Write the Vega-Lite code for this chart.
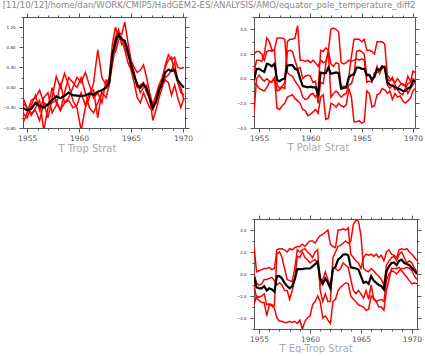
{
"$schema": "https://vega.github.io/schema/vega-lite/v6.json",
"padding": {"left": 2, "top": 1, "right": 0, "bottom": 0},
"title": {"text": "[11/10/12]/home/dan/WORK/CMIP5/HadGEM2-ES/ANALYSIS/AMO/equator_pole_temperature_diff2", "anchor": "start", "font": "DejaVu Sans", "fontSize": 8.5, "fontWeight": "normal", "color": "#888888", "offset": 3, "dx": 0},
"config": {"view": {"stroke": null}, "axis": {"domainWidth": 1, "tickWidth": 1, "grid": false, "domainColor": "#555555", "tickColor": "#555555"}},
"datasets": {
"p1": [
{"t":1954.6,"a":-0.70,"b":-0.20,"c":-0.50,"d":-0.30,"m":-0.40},
{"t":1955.0,"a":-0.50,"b":-0.40,"c":-0.60,"d":-0.40,"m":-0.45},
{"t":1955.4,"a":-0.25,"b":-0.55,"c":-0.35,"d":-0.50,"m":-0.42},
{"t":1955.8,"a":-0.20,"b":-0.40,"c":-0.15,"d":-0.45,"m":-0.30},
{"t":1956.2,"a":-0.05,"b":-0.25,"c":-0.45,"d":-0.65,"m":-0.36},
{"t":1956.6,"a":-0.30,"b":-0.85,"c":-0.20,"d":-0.30,"m":-0.40},
{"t":1957.0,"a":-0.60,"b":-0.40,"c":-0.10,"d":-0.35,"m":-0.33},
{"t":1957.4,"a":-0.20,"b":0.00,"c":-0.50,"d":-0.30,"m":-0.25},
{"t":1957.8,"a":0.22,"b":-0.30,"c":-0.35,"d":-0.25,"m":-0.17},
{"t":1958.2,"a":0.00,"b":-0.45,"c":0.10,"d":-0.45,"m":-0.21},
{"t":1958.6,"a":0.28,"b":-0.10,"c":-0.30,"d":-0.30,"m":-0.16},
{"t":1959.0,"a":0.05,"b":0.20,"c":-0.20,"d":-0.25,"m":-0.10},
{"t":1959.4,"a":-0.25,"b":0.10,"c":0.00,"d":-0.40,"m":-0.15},
{"t":1959.8,"a":-0.40,"b":0.00,"c":0.20,"d":-0.35,"m":-0.16},
{"t":1960.2,"a":-0.85,"b":0.20,"c":0.10,"d":-0.10,"m":-0.17},
{"t":1960.6,"a":-0.40,"b":-0.10,"c":0.30,"d":-0.35,"m":-0.15},
{"t":1961.0,"a":-0.20,"b":-0.40,"c":0.05,"d":-0.10,"m":-0.12},
{"t":1961.4,"a":0.10,"b":-0.50,"c":-0.20,"d":-0.05,"m":-0.14},
{"t":1961.8,"a":0.75,"b":-0.30,"c":-0.10,"d":-0.60,"m":-0.08},
{"t":1962.2,"a":0.20,"b":-0.10,"c":-0.30,"d":-0.05,"m":-0.05},
{"t":1962.6,"a":0.05,"b":-0.20,"c":0.15,"d":0.00,"m":0.00},
{"t":1962.9,"a":0.20,"b":0.05,"c":0.10,"d":0.10,"m":0.10},
{"t":1963.2,"a":0.85,"b":0.45,"c":0.60,"d":0.70,"m":0.65},
{"t":1963.5,"a":1.20,"b":0.80,"c":1.00,"d":0.70,"m":0.92},
{"t":1963.8,"a":1.00,"b":1.10,"c":1.15,"d":0.95,"m":1.05},
{"t":1964.1,"a":0.95,"b":1.05,"c":0.85,"d":1.00,"m":0.96},
{"t":1964.4,"a":0.75,"b":1.30,"c":0.90,"d":0.80,"m":0.93},
{"t":1964.7,"a":0.50,"b":0.90,"c":0.80,"d":0.65,"m":0.70},
{"t":1965.0,"a":0.35,"b":0.55,"c":0.40,"d":0.50,"m":0.45},
{"t":1965.3,"a":0.10,"b":0.40,"c":0.20,"d":0.30,"m":0.25},
{"t":1965.6,"a":-0.20,"b":0.30,"c":0.10,"d":0.00,"m":0.05},
{"t":1965.9,"a":-0.30,"b":0.35,"c":-0.10,"d":0.05,"m":0.00},
{"t":1966.2,"a":-0.10,"b":0.45,"c":0.00,"d":0.10,"m":0.07},
{"t":1966.5,"a":-0.25,"b":0.20,"c":0.05,"d":-0.10,"m":-0.02},
{"t":1966.8,"a":-0.40,"b":-0.10,"c":-0.20,"d":-0.20,"m":-0.22},
{"t":1967.1,"a":-0.45,"b":-0.35,"c":-0.65,"d":-0.30,"m":-0.40},
{"t":1967.4,"a":-0.25,"b":-0.15,"c":-0.45,"d":-0.30,"m":-0.28},
{"t":1967.7,"a":0.00,"b":0.05,"c":-0.20,"d":-0.10,"m":-0.05},
{"t":1968.0,"a":0.15,"b":0.20,"c":0.00,"d":0.05,"m":0.10},
{"t":1968.3,"a":0.45,"b":0.40,"c":0.20,"d":0.15,"m":0.30},
{"t":1968.6,"a":0.65,"b":0.55,"c":0.25,"d":0.10,"m":0.36},
{"t":1968.9,"a":0.55,"b":0.60,"c":0.35,"d":-0.15,"m":0.33},
{"t":1969.2,"a":0.60,"b":0.30,"c":0.50,"d":0.05,"m":0.35},
{"t":1969.5,"a":0.40,"b":0.10,"c":0.10,"d":-0.20,"m":0.15},
{"t":1969.8,"a":0.38,"b":-0.10,"c":0.00,"d":-0.40,"m":0.07},
{"t":1970.1,"a":0.40,"b":-0.15,"c":-0.25,"d":-0.20,"m":0.00}
],
"p2": [
{"t":1954.5,"a":-2.8,"b":2.0,"c":0.5,"d":-0.3,"m":-0.15},
{"t":1954.75,"a":0.0,"b":2.2,"c":1.5,"d":-0.5,"m":0.8},
{"t":1955.0,"a":0.3,"b":2.2,"c":1.5,"d":-0.8,"m":0.8},
{"t":1955.25,"a":0.0,"b":2.0,"c":1.4,"d":-0.9,"m":0.65},
{"t":1955.5,"a":-0.2,"b":1.5,"c":2.0,"d":-1.0,"m":0.55},
{"t":1955.75,"a":0.0,"b":2.2,"c":3.3,"d":-0.7,"m":1.2},
{"t":1956.0,"a":-0.2,"b":2.3,"c":3.0,"d":-0.3,"m":1.15},
{"t":1956.25,"a":-0.3,"b":2.2,"c":2.3,"d":-0.2,"m":1.0},
{"t":1956.5,"a":0.0,"b":2.4,"c":2.3,"d":0.1,"m":1.2},
{"t":1956.75,"a":-2.4,"b":3.3,"c":-0.5,"d":-1.0,"m":-0.1},
{"t":1957.0,"a":-2.5,"b":3.3,"c":-0.8,"d":-0.9,"m":-0.2},
{"t":1957.25,"a":-2.2,"b":3.3,"c":-0.6,"d":-0.7,"m":-0.05},
{"t":1957.5,"a":-2.0,"b":3.2,"c":-0.3,"d":-0.8,"m":0.0},
{"t":1957.75,"a":-1.5,"b":0.5,"c":3.0,"d":2.2,"m":1.05},
{"t":1958.0,"a":-1.4,"b":0.3,"c":3.2,"d":2.3,"m":1.1},
{"t":1958.25,"a":-1.3,"b":0.2,"c":3.2,"d":2.2,"m":1.1},
{"t":1958.5,"a":-1.6,"b":-0.2,"c":3.3,"d":1.5,"m":0.8},
{"t":1958.75,"a":-1.8,"b":-0.5,"c":4.3,"d":0.8,"m":0.7},
{"t":1959.0,"a":-2.0,"b":-0.8,"c":1.5,"d":0.9,"m":0.0},
{"t":1959.25,"a":-2.5,"b":-1.5,"c":1.5,"d":0.0,"m":-0.6},
{"t":1959.5,"a":-2.6,"b":-1.7,"c":1.4,"d":0.2,"m":-0.65},
{"t":1959.75,"a":-3.0,"b":-1.6,"c":1.5,"d":0.3,"m":-0.7},
{"t":1960.0,"a":-2.9,"b":-1.3,"c":1.3,"d":0.2,"m":-0.65},
{"t":1960.25,"a":-2.7,"b":-1.2,"c":1.5,"d":-0.3,"m":-0.7},
{"t":1960.5,"a":-2.5,"b":-1.5,"c":1.3,"d":-0.2,"m":-0.7},
{"t":1960.75,"a":-2.8,"b":-1.0,"c":1.0,"d":-2.0,"m":-1.2},
{"t":1961.0,"a":-1.5,"b":2.3,"c":1.5,"d":-0.3,"m":0.5},
{"t":1961.25,"a":-1.3,"b":2.2,"c":1.3,"d":-0.4,"m":0.45},
{"t":1961.5,"a":-3.3,"b":2.5,"c":1.4,"d":1.2,"m":0.45},
{"t":1961.75,"a":-3.2,"b":2.3,"c":2.3,"d":2.2,"m":0.9},
{"t":1962.0,"a":-2.0,"b":4.0,"c":1.2,"d":-1.5,"m":0.4},
{"t":1962.25,"a":-2.1,"b":4.1,"c":1.0,"d":-1.2,"m":0.45},
{"t":1962.5,"a":-2.3,"b":4.0,"c":1.3,"d":-1.0,"m":0.5},
{"t":1962.75,"a":-2.0,"b":3.8,"c":1.2,"d":-1.2,"m":0.45},
{"t":1963.0,"a":-2.2,"b":1.3,"c":-0.8,"d":-1.5,"m":-0.8},
{"t":1963.25,"a":-2.3,"b":1.2,"c":-0.6,"d":-1.3,"m":-0.75},
{"t":1963.5,"a":-2.1,"b":1.3,"c":-0.7,"d":-1.2,"m":-0.7},
{"t":1963.75,"a":-0.8,"b":1.5,"c":0.2,"d":-0.5,"m":0.1},
{"t":1964.0,"a":-1.5,"b":1.4,"c":1.8,"d":-0.4,"m":0.3},
{"t":1964.25,"a":-3.5,"b":1.5,"c":3.2,"d":0.3,"m":0.35},
{"t":1964.5,"a":-3.5,"b":1.6,"c":3.2,"d":2.2,"m":0.9},
{"t":1964.75,"a":-3.4,"b":1.5,"c":3.2,"d":2.3,"m":0.9},
{"t":1965.0,"a":-3.6,"b":1.6,"c":3.0,"d":2.2,"m":0.8},
{"t":1965.25,"a":-3.5,"b":1.5,"c":3.2,"d":2.0,"m":0.8},
{"t":1965.5,"a":-1.0,"b":-0.3,"c":2.3,"d":0.2,"m":0.3},
{"t":1965.75,"a":-1.2,"b":-0.2,"c":2.3,"d":0.3,"m":0.3},
{"t":1966.0,"a":-2.3,"b":-0.3,"c":2.2,"d":0.0,"m":-0.1},
{"t":1966.25,"a":-2.2,"b":0.5,"c":2.0,"d":0.2,"m":0.15},
{"t":1966.5,"a":-1.3,"b":0.5,"c":3.0,"d":1.0,"m":0.8},
{"t":1966.75,"a":-1.2,"b":0.6,"c":3.0,"d":0.4,"m":0.7},
{"t":1967.0,"a":-0.8,"b":0.8,"c":3.0,"d":1.0,"m":1.0},
{"t":1967.25,"a":-0.9,"b":1.0,"c":2.8,"d":0.9,"m":0.9},
{"t":1967.5,"a":-1.2,"b":0.0,"c":0.3,"d":-0.5,"m":-0.3},
{"t":1967.75,"a":-1.0,"b":-0.2,"c":0.0,"d":-0.8,"m":-0.5},
{"t":1968.0,"a":-1.7,"b":0.1,"c":-0.1,"d":-0.5,"m":-0.55},
{"t":1968.25,"a":-1.2,"b":-0.5,"c":-0.3,"d":-0.9,"m":-0.7},
{"t":1968.5,"a":-1.5,"b":-0.9,"c":0.0,"d":-0.8,"m":-0.8},
{"t":1968.75,"a":-1.4,"b":-1.2,"c":-0.3,"d":-0.5,"m":-0.85},
{"t":1969.0,"a":-1.8,"b":-1.3,"c":-0.5,"d":-0.4,"m":-1.0},
{"t":1969.25,"a":-2.0,"b":-0.8,"c":-0.6,"d":-0.6,"m":-1.0},
{"t":1969.5,"a":-1.8,"b":-0.4,"c":-1.2,"d":0.2,"m":-0.8},
{"t":1969.75,"a":-1.6,"b":-0.3,"c":-0.8,"d":-0.2,"m":-0.7},
{"t":1970.0,"a":-1.0,"b":0.6,"c":-0.5,"d":0.0,"m":-0.2},
{"t":1970.2,"a":-0.8,"b":0.5,"c":-0.3,"d":-0.1,"m":-0.2}
],
"p3": [
{"t":1954.5,"a":2.6,"b":-2.8,"c":0.0,"d":-1.0,"m":-0.3},
{"t":1954.75,"a":0.2,"b":-2.0,"c":-0.8,"d":-2.2,"m":-1.2},
{"t":1955.0,"a":0.3,"b":-2.1,"c":-1.0,"d":-2.4,"m":-1.3},
{"t":1955.25,"a":0.4,"b":-2.0,"c":-0.9,"d":-2.6,"m":-1.3},
{"t":1955.5,"a":0.5,"b":-1.8,"c":-0.5,"d":-2.6,"m":-1.1},
{"t":1955.75,"a":0.5,"b":-2.8,"c":-0.5,"d":-3.8,"m":-1.5},
{"t":1956.0,"a":0.6,"b":-2.7,"c":-0.4,"d":-2.8,"m":-1.3},
{"t":1956.25,"a":0.4,"b":-2.8,"c":-0.3,"d":-2.9,"m":-1.4},
{"t":1956.5,"a":0.5,"b":-2.9,"c":-0.6,"d":-3.1,"m":-1.6},
{"t":1956.75,"a":2.2,"b":1.8,"c":-1.0,"d":-4.0,"m":-0.2},
{"t":1957.0,"a":2.3,"b":2.0,"c":-0.8,"d":-4.3,"m":-0.2},
{"t":1957.25,"a":2.3,"b":1.5,"c":-1.0,"d":-4.3,"m":-0.4},
{"t":1957.5,"a":2.2,"b":0.5,"c":-1.5,"d":-4.4,"m":-0.8},
{"t":1957.75,"a":2.0,"b":-0.5,"c":-1.5,"d":-4.4,"m":-1.1},
{"t":1958.0,"a":2.3,"b":-0.6,"c":-2.3,"d":-4.3,"m":-1.3},
{"t":1958.25,"a":2.2,"b":-0.7,"c":-1.5,"d":-4.4,"m":-1.1},
{"t":1958.5,"a":2.4,"b":0.5,"c":-0.5,"d":-4.3,"m":-0.5},
{"t":1958.75,"a":2.5,"b":2.2,"c":1.6,"d":-4.5,"m":0.45},
{"t":1959.0,"a":2.5,"b":2.0,"c":1.5,"d":-4.2,"m":0.45},
{"t":1959.25,"a":2.7,"b":2.2,"c":2.0,"d":-5.0,"m":0.45},
{"t":1959.5,"a":2.5,"b":2.3,"c":1.5,"d":-4.3,"m":0.5},
{"t":1959.75,"a":2.8,"b":2.0,"c":1.3,"d":-4.0,"m":0.5},
{"t":1960.0,"a":3.0,"b":1.8,"c":1.0,"d":-3.8,"m":0.5},
{"t":1960.25,"a":3.0,"b":1.5,"c":1.2,"d":-2.8,"m":0.7},
{"t":1960.5,"a":2.8,"b":2.0,"c":1.3,"d":-2.5,"m":0.9},
{"t":1960.75,"a":3.2,"b":2.2,"c":1.0,"d":-2.0,"m":1.1},
{"t":1961.0,"a":3.5,"b":-1.5,"c":-1.0,"d":-2.5,"m":-0.4},
{"t":1961.25,"a":3.6,"b":-2.5,"c":-0.5,"d":-4.0,"m":-0.9},
{"t":1961.5,"a":3.8,"b":-1.8,"c":0.2,"d":-3.8,"m":-0.4},
{"t":1961.75,"a":4.0,"b":-2.5,"c":-0.5,"d":-4.2,"m":-0.8},
{"t":1962.0,"a":2.7,"b":-2.5,"c":-1.0,"d":-4.5,"m":-1.3},
{"t":1962.25,"a":2.5,"b":1.5,"c":0.5,"d":-2.5,"m":0.5},
{"t":1962.5,"a":2.4,"b":2.0,"c":0.5,"d":-2.3,"m":0.65},
{"t":1962.75,"a":4.0,"b":2.5,"c":0.3,"d":-1.5,"m":1.3},
{"t":1963.0,"a":4.0,"b":2.6,"c":0.5,"d":-1.2,"m":1.5},
{"t":1963.25,"a":4.1,"b":2.8,"c":1.0,"d":-1.0,"m":1.75},
{"t":1963.5,"a":4.0,"b":3.0,"c":0.8,"d":-0.8,"m":1.8},
{"t":1963.75,"a":4.2,"b":2.8,"c":0.6,"d":-0.9,"m":1.7},
{"t":1964.0,"a":1.8,"b":3.0,"c":-0.5,"d":-2.0,"m":0.6},
{"t":1964.25,"a":1.5,"b":4.5,"c":-1.5,"d":-2.3,"m":0.55},
{"t":1964.5,"a":1.2,"b":4.9,"c":-1.8,"d":-2.5,"m":0.5},
{"t":1964.75,"a":1.0,"b":4.8,"c":-1.5,"d":-2.8,"m":0.4},
{"t":1965.0,"a":0.5,"b":3.5,"c":-1.8,"d":-2.9,"m":-0.2},
{"t":1965.25,"a":1.5,"b":0.5,"c":-2.2,"d":-3.0,"m":-0.8},
{"t":1965.5,"a":1.8,"b":0.3,"c":-1.5,"d":-3.3,"m":-0.7},
{"t":1965.75,"a":1.7,"b":0.2,"c":-2.3,"d":-3.2,"m":-0.9},
{"t":1966.0,"a":1.8,"b":0.5,"c":-1.0,"d":-2.0,"m":-0.2},
{"t":1966.25,"a":1.6,"b":0.3,"c":-2.3,"d":-2.2,"m":-0.6},
{"t":1966.5,"a":1.8,"b":0.0,"c":-2.5,"d":-2.5,"m":-0.8},
{"t":1966.75,"a":1.5,"b":-0.2,"c":-2.4,"d":-3.0,"m":-1.0},
{"t":1967.0,"a":1.7,"b":-0.5,"c":-2.3,"d":-3.0,"m":-1.1},
{"t":1967.25,"a":1.2,"b":-1.0,"c":-2.5,"d":-3.3,"m":-1.4},
{"t":1967.5,"a":2.0,"b":0.8,"c":-0.6,"d":-1.5,"m":0.2},
{"t":1967.75,"a":2.2,"b":1.2,"c":0.0,"d":-0.5,"m":0.7},
{"t":1968.0,"a":1.8,"b":1.5,"c":0.3,"d":0.5,"m":1.0},
{"t":1968.25,"a":1.7,"b":1.6,"c":0.2,"d":0.5,"m":1.05},
{"t":1968.5,"a":1.5,"b":1.2,"c":0.0,"d":0.5,"m":0.8},
{"t":1968.75,"a":2.2,"b":1.8,"c":0.3,"d":0.6,"m":1.2},
{"t":1969.0,"a":2.3,"b":2.0,"c":0.5,"d":0.3,"m":1.3},
{"t":1969.25,"a":2.2,"b":1.5,"c":0.5,"d":0.0,"m":1.0},
{"t":1969.5,"a":2.3,"b":1.0,"c":0.6,"d":-0.3,"m":0.9},
{"t":1969.75,"a":2.0,"b":1.2,"c":0.5,"d":-0.6,"m":0.8},
{"t":1970.0,"a":1.8,"b":1.0,"c":0.3,"d":-0.9,"m":0.55},
{"t":1970.25,"a":1.5,"b":0.5,"c":-0.2,"d":-0.8,"m":0.3},
{"t":1970.5,"a":1.2,"b":0.2,"c":-0.5,"d":-0.9,"m":0.0}
]
},
"spacing": 43,
"hconcat": [
{
"width": 162, "height": 111,
"data": {"name": "p1"},
"transform": [{"fold": ["a","b","c","d","m"], "as": ["s","v"]}],
"layer": [
{"transform": [{"filter": "datum.s !== 'm'"}],
 "mark": {"type": "line", "color": "#ff0000", "strokeWidth": 1.5, "clip": true},
 "encoding": {
  "x": {"field": "t", "type": "quantitative", "scale": {"domain": [1954.6, 1970.2], "nice": false, "zero": false},
   "axis": {"orient": "bottom", "values": [1955,1956,1957,1958,1959,1960,1961,1962,1963,1964,1965,1966,1967,1968,1969,1970], "format": "d",
    "labelExpr": "datum.value % 5 === 0 ? datum.label : ''",
    "tickSize": {"condition": {"test": "datum.value % 5 === 0", "value": 4}, "value": 2},
    "labelFont": "DejaVu Sans", "labelFontSize": 7.5, "labelColor": "#555555", "labelPadding": 2, "labelFlush": false, "labelOverlap": false,
    "title": "T Trop Strat", "titleFont": "DejaVu Sans", "titleFontSize": 10, "titleFontWeight": "normal", "titleColor": "#aaaaaa",
    "titleAlign": "left", "titleBaseline": "middle", "titleX": 35, "titleY": 20}},
  "y": {"field": "v", "type": "quantitative", "scale": {"domain": [-0.8, 1.4], "nice": false, "zero": false},
   "axis": {"orient": "left", "values": [-0.8,-0.6,-0.4,-0.2,0,0.2,0.4,0.6,0.8,1.0,1.2,1.4], "format": ".2f",
    "labelExpr": "abs(datum.value*2.5 - round(datum.value*2.5)) < 0.01 ? datum.label : ''",
    "tickSize": {"condition": {"test": "abs(datum.value*2.5 - round(datum.value*2.5)) < 0.01", "value": 4}, "value": 2},
    "labelFont": "DejaVu Sans", "labelFontSize": 4, "labelColor": "#222222", "labelPadding": 4, "labelOverlap": false, "labelFlush": false, "title": null}},
  "detail": {"field": "s"}
 }},
{"transform": [{"filter": "datum.s === 'm'"}],
 "mark": {"type": "line", "color": "#000000", "strokeWidth": 2.2, "clip": true},
 "encoding": {
  "x": {"field": "t", "type": "quantitative",
   "axis": {"orient": "top", "values": [1955,1956,1957,1958,1959,1960,1961,1962,1963,1964,1965,1966,1967,1968,1969,1970], "labels": false,
    "tickSize": {"condition": {"test": "datum.value % 5 === 0", "value": 4}, "value": 2}, "title": null}},
  "y": {"field": "v", "type": "quantitative",
   "axis": {"orient": "right", "values": [-0.8,-0.6,-0.4,-0.2,0,0.2,0.4,0.6,0.8,1.0,1.2,1.4], "labels": false,
    "tickSize": {"condition": {"test": "abs(datum.value*2.5 - round(datum.value*2.5)) < 0.01", "value": 4}, "value": 2}, "title": null}}
 }}
],
"resolve": {"axis": {"x": "independent", "y": "independent"}}
},
{
"spacing": 62,
"vconcat": [
{
"width": 161, "height": 111,
"data": {"name": "p2"},
"transform": [{"fold": ["a","b","c","d","m"], "as": ["s","v"]}],
"layer": [
{"transform": [{"filter": "datum.s !== 'm'"}],
 "mark": {"type": "line", "color": "#ff0000", "strokeWidth": 1.5, "clip": true},
 "encoding": {
  "x": {"field": "t", "type": "quantitative", "scale": {"domain": [1954.5, 1970.2], "nice": false, "zero": false},
   "axis": {"orient": "bottom", "values": [1955,1956,1957,1958,1959,1960,1961,1962,1963,1964,1965,1966,1967,1968,1969,1970], "format": "d",
    "labelExpr": "datum.value % 5 === 0 ? datum.label : ''",
    "tickSize": {"condition": {"test": "datum.value % 5 === 0", "value": 4}, "value": 2},
    "labelFont": "DejaVu Sans", "labelFontSize": 7.5, "labelColor": "#555555", "labelPadding": 2, "labelFlush": false, "labelOverlap": false,
    "title": "T Polar Strat", "titleFont": "DejaVu Sans", "titleFontSize": 10, "titleFontWeight": "normal", "titleColor": "#aaaaaa",
    "titleAlign": "left", "titleBaseline": "middle", "titleX": 33, "titleY": 19}},
  "y": {"field": "v", "type": "quantitative", "scale": {"domain": [-4, 5], "nice": false, "zero": false},
   "axis": {"orient": "left", "values": [-4,-3,-2,-1,0,1,2,3,4,5], "format": ".1f",
    "labelExpr": "datum.value % 2 === 0 ? datum.label : ''",
    "tickSize": {"condition": {"test": "datum.value % 2 === 0", "value": 4}, "value": 2},
    "labelFont": "DejaVu Sans", "labelFontSize": 4, "labelColor": "#222222", "labelPadding": 4, "labelOverlap": false, "labelFlush": false, "title": null}},
  "detail": {"field": "s"}
 }},
{"transform": [{"filter": "datum.s === 'm'"}],
 "mark": {"type": "line", "color": "#000000", "strokeWidth": 2.2, "clip": true},
 "encoding": {
  "x": {"field": "t", "type": "quantitative",
   "axis": {"orient": "top", "values": [1955,1956,1957,1958,1959,1960,1961,1962,1963,1964,1965,1966,1967,1968,1969,1970], "labels": false,
    "tickSize": {"condition": {"test": "datum.value % 5 === 0", "value": 4}, "value": 2}, "title": null}},
  "y": {"field": "v", "type": "quantitative",
   "axis": {"orient": "right", "values": [-4,-3,-2,-1,0,1,2,3,4,5], "labels": false,
    "tickSize": {"condition": {"test": "datum.value % 2 === 0", "value": 4}, "value": 2}, "title": null}}
 }}
],
"resolve": {"axis": {"x": "independent", "y": "independent"}}
},
{
"width": 163, "height": 110,
"data": {"name": "p3"},
"transform": [{"fold": ["a","b","c","d","m"], "as": ["s","v"]}],
"layer": [
{"transform": [{"filter": "datum.s !== 'm'"}],
 "mark": {"type": "line", "color": "#ff0000", "strokeWidth": 1.5, "clip": true},
 "encoding": {
  "x": {"field": "t", "type": "quantitative", "scale": {"domain": [1954.5, 1970.5], "nice": false, "zero": false},
   "axis": {"orient": "bottom", "values": [1955,1956,1957,1958,1959,1960,1961,1962,1963,1964,1965,1966,1967,1968,1969,1970], "format": "d",
    "labelExpr": "datum.value % 5 === 0 ? datum.label : ''",
    "tickSize": {"condition": {"test": "datum.value % 5 === 0", "value": 4}, "value": 2},
    "labelFont": "DejaVu Sans", "labelFontSize": 7.5, "labelColor": "#555555", "labelPadding": 2, "labelFlush": false, "labelOverlap": false,
    "title": "T Eq-Trop Strat", "titleFont": "DejaVu Sans", "titleFontSize": 10, "titleFontWeight": "normal", "titleColor": "#aaaaaa",
    "titleAlign": "left", "titleBaseline": "middle", "titleX": 25, "titleY": 19}},
  "y": {"field": "v", "type": "quantitative", "scale": {"domain": [-5, 5], "nice": false, "zero": false},
   "axis": {"orient": "left", "values": [-5,-4,-3,-2,-1,0,1,2,3,4,5], "format": ".1f",
    "labelExpr": "datum.value % 2 === 0 ? datum.label : ''",
    "tickSize": {"condition": {"test": "datum.value % 2 === 0", "value": 4}, "value": 2},
    "labelFont": "DejaVu Sans", "labelFontSize": 4, "labelColor": "#222222", "labelPadding": 4, "labelOverlap": false, "labelFlush": false, "title": null}},
  "detail": {"field": "s"}
 }},
{"transform": [{"filter": "datum.s === 'm'"}],
 "mark": {"type": "line", "color": "#000000", "strokeWidth": 2.2, "clip": true},
 "encoding": {
  "x": {"field": "t", "type": "quantitative",
   "axis": {"orient": "top", "values": [1955,1956,1957,1958,1959,1960,1961,1962,1963,1964,1965,1966,1967,1968,1969,1970], "labels": false,
    "tickSize": {"condition": {"test": "datum.value % 5 === 0", "value": 4}, "value": 2}, "title": null}},
  "y": {"field": "v", "type": "quantitative",
   "axis": {"orient": "right", "values": [-5,-4,-3,-2,-1,0,1,2,3,4,5], "labels": false,
    "tickSize": {"condition": {"test": "datum.value % 2 === 0", "value": 4}, "value": 2}, "title": null}}
 }}
],
"resolve": {"axis": {"x": "independent", "y": "independent"}}
}
]
}
]
}
